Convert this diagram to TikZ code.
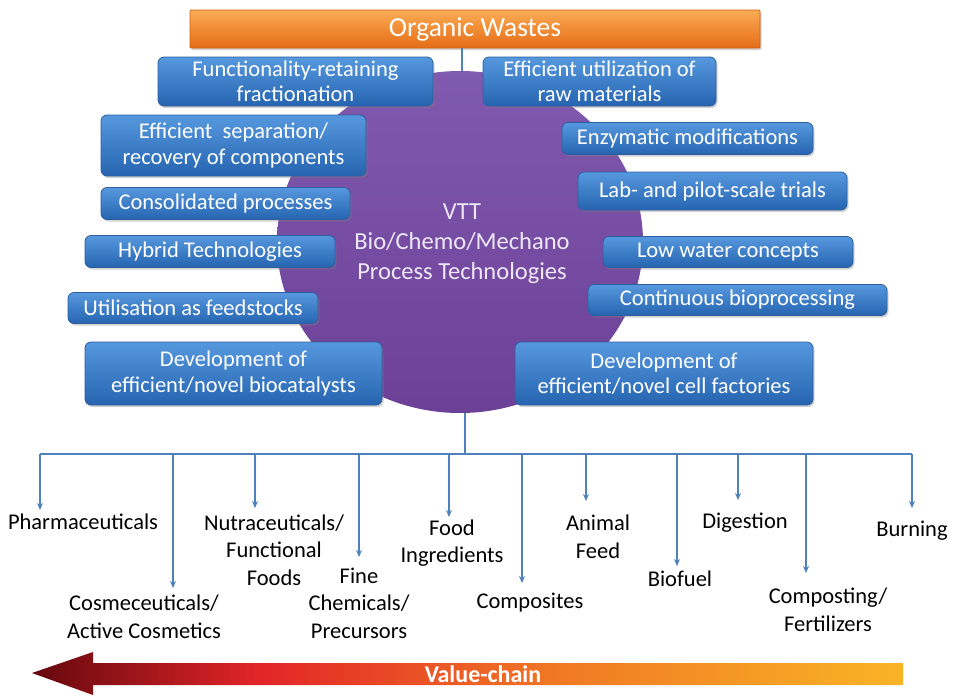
\documentclass[tikz,border=0pt]{standalone}
\usepackage{fontspec}
\setmainfont{Carlito}
\usetikzlibrary{shadows,arrows.meta,shapes.geometric}
\definecolor{boxtop}{RGB}{86,152,222}
\definecolor{boxbot}{RGB}{38,100,176}
\definecolor{boxedge}{RGB}{45,95,160}
\definecolor{linkblue}{RGB}{79,129,189}
\definecolor{purtop}{RGB}{128,90,175}
\definecolor{purbot}{RGB}{108,64,150}
\definecolor{orgtop}{RGB}{250,172,84}
\definecolor{orgbot}{RGB}{230,108,22}
\definecolor{orgedge}{RGB}{205,95,20}
\definecolor{vc1}{RGB}{100,8,14}
\definecolor{vc2}{RGB}{226,36,40}
\definecolor{vc3}{RGB}{240,120,36}
\definecolor{vc4}{RGB}{249,180,38}
\definecolor{circtext}{RGB}{238,232,246}
\pgfdeclarehorizontalshading{vchain}{100bp}{color(0bp)=(vc1); color(25bp)=(vc1); color(38bp)=(vc2); color(55bp)=(vc3); color(75bp)=(vc4); color(100bp)=(vc4)}
\tikzset{
  bbox/.style={rounded corners=6pt, draw=boxedge, line width=0.8pt,
    top color=boxtop, bottom color=boxbot, text=white, align=center,
    font=\fontsize{22.5}{25.5}\selectfont, inner sep=0pt,
    drop shadow={shadow xshift=1.5pt, shadow yshift=-2pt, opacity=0.35}},
  lbl/.style={align=center, text=black, font=\fontsize{22.5}{27.5}\selectfont, inner sep=0pt},
  link/.style={draw=linkblue, line width=2.2pt},
  arr/.style={link, -{Stealth[length=7pt,width=6pt]}},
}
\begin{document}
\begin{tikzpicture}[x=1pt,y=-1pt]
\useasboundingbox (0,0) rectangle (954,697);
% top box
\node[rounded corners=1pt, draw=orgedge, line width=0.8pt, top color=orgtop, bottom color=orgbot,
  minimum width=570pt, minimum height=38pt, inner sep=0pt, text=white,
  font=\fontsize{27.5}{32}\selectfont,
  drop shadow={shadow xshift=1.5pt, shadow yshift=-2pt, opacity=0.35}] (ow) at (475,29) {Organic Wastes};
% circle
\node[ellipse, draw=none, top color=purtop, bottom color=purbot,
  minimum width=366pt, minimum height=342pt, inner sep=0pt] (circ) at (460,242) {};
\draw[link] (ow.south -| 462,0) -- (circ.north -| 462,0);
\node[align=center, text=circtext, font=\fontsize{24.5}{30}\selectfont] (ctext) at (462,244)
  {VTT\\Bio/Chemo/Mechano\\Process Technologies};
% blue boxes
\node[bbox, minimum width=275pt, minimum height=49pt] (b1) at (295.5,81.5) {Functionality-retaining\\fractionation};
\node[bbox, minimum width=233pt, minimum height=49pt] (b2) at (599.5,81.5) {Efficient utilization of\\raw materials};
\node[bbox, minimum width=265pt, minimum height=61pt] (b3) at (233.5,145.5) {Efficient\ \ separation/\\recovery of components};
\node[bbox, minimum width=249pt, minimum height=32pt] (b4) at (225.5,203.5) {Consolidated processes};
\node[bbox, minimum width=250pt, minimum height=32pt] (b5) at (210,251.5) {Hybrid Technologies};
\node[bbox, minimum width=250pt, minimum height=31pt] (b6) at (193,308) {Utilisation as feedstocks};
\node[bbox, minimum width=297pt, minimum height=63pt] (b7) at (233.5,373.5) {Development of\\efficient/novel biocatalysts};
\node[bbox, minimum width=251pt, minimum height=32pt] (b8) at (687.5,138.5) {Enzymatic modifications};
\node[bbox, minimum width=269pt, minimum height=38pt] (b9) at (712.5,191) {Lab- and pilot-scale trials};
\node[bbox, minimum width=250pt, minimum height=31pt] (b10) at (728,252) {Low water concepts};
\node[bbox, minimum width=299pt, minimum height=31pt] (b11) at (737.5,300) {Continuous bioprocessing};
\node[bbox, minimum width=298pt, minimum height=63pt] (b12) at (664,373.5) {Development of\\efficient/novel cell factories};
% bottom tree
\coordinate (hub) at (465,454);
\coordinate (hl) at (40,454);
\coordinate (hr) at (912,454);
\draw[link] (circ.south -| hub) -- (hub);
\draw[link] (hl) -- (hr);
% labels
\node[lbl] (pharma) at (83,522) {Pharmaceuticals};
\node[lbl] (cosme) at (144,617) {Cosmeceuticals/\\Active Cosmetics};
\node[lbl] (nutra) at (274,550) {Nutraceuticals/\\Functional\\Foods};
\node[lbl] (fine) at (359,603) {Fine\\Chemicals/\\Precursors};
\node[lbl] (food) at (452,543) {Food\\Ingredients};
\node[lbl] (compo) at (530,603) {Composites};
\node[lbl] (animal) at (598,537) {Animal\\Feed};
\node[lbl] (biofuel) at (680,579) {Biofuel};
\node[lbl] (digest) at (745,523) {Digestion};
\node[lbl] (compost) at (828,610) {Composting/\\Fertilizers};
\node[lbl] (burn) at (912,531) {Burning};
% branch arrows
\foreach \x/\t in {40/510,173/588,255/508,359/557,449/517,522/583,586/501,677/566,738/500,806/573,912/508}{
  \coordinate (s\x) at (\x,454);
  \coordinate (e\x) at (\x,\t);
  \draw[arr] (s\x) -- (e\x);
}
% value chain
\path[shading=vchain] (32,673) -- (93,652) -- (93,663) -- (903,663) -- (903,685) -- (93,685) -- (93,695) -- cycle;
\node[text=white, font=\bfseries\fontsize{24}{26}\selectfont, inner sep=0pt] (vc) at (483,674) {Value-chain};
\end{tikzpicture}
\end{document}
